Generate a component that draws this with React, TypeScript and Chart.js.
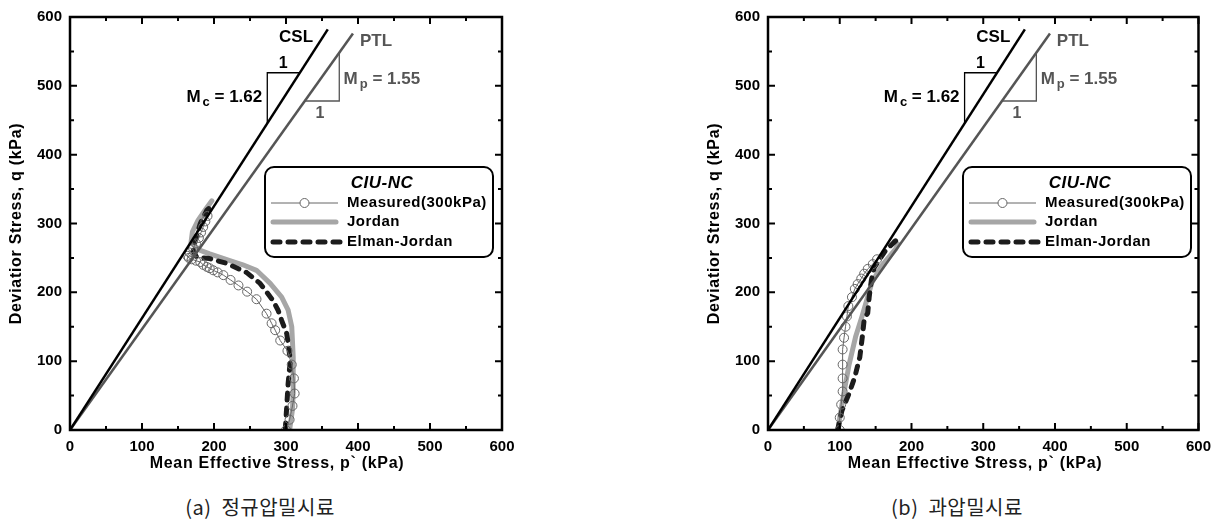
import React, { useEffect, useRef } from "react";
import { Chart, registerables } from "chart.js";
Chart.register(...registerables);

// ---------- data (p' in kPa, q in kPa) ----------
const axisMax = 600;
const majorStep = 100;
const minorStep = 50;

const cslP = [0, 358];
const cslQ = [0, 582];
const ptlP = [0, 393];
const ptlQ = [0, 576];
const cslTriP = [274, 274, 319];
const cslTriQ = [445, 519, 519];
const ptlTriP = [374, 374, 326];
const ptlTriQ = [548, 478, 478];

// (a) normally consolidated
const ncMeasuredP = [300, 305, 309, 312, 311, 308, 302, 292, 285, 280, 273, 259, 246, 234, 223, 213, 205, 199, 194, 190, 185, 181, 175, 169, 165, 163, 166, 171, 175, 179, 182, 185, 188, 191];
const ncMeasuredQ = [0, 15, 35, 53, 75, 95, 115, 130, 145, 155, 169, 190, 201, 210, 218, 225, 229, 232, 235, 237, 240, 244, 246, 248, 250, 253, 258, 264, 271, 279, 287, 295, 303, 311];
const ncJordanP = [305, 309, 310, 310, 308, 303, 294, 278, 259, 240, 222, 194, 181, 168, 170, 178, 188, 197];
const ncJordanQ = [0, 30, 58, 106, 150, 174, 193, 213, 232, 240, 246, 256, 261, 272, 288, 305, 320, 333];
const ncElmanP = [299, 301, 303, 306, 303, 301, 294, 289, 282, 264, 245, 218, 194, 176, 171, 174, 181, 190, 197];
const ncElmanQ = [0, 34, 68, 101, 126, 140, 159, 174, 188, 213, 229, 242, 249, 251, 260, 275, 300, 319, 326];

// (b) overconsolidated
const ocMeasuredP = [100, 100, 102, 104, 104, 104, 104, 106, 108, 110, 112, 117, 121, 125, 130, 134, 139, 146, 152];
const ocMeasuredQ = [0, 18, 37, 56, 75, 95, 117, 134, 150, 165, 180, 193, 205, 212, 220, 227, 234, 241, 248];
const ocJordanP = [98, 100, 106, 113, 122, 131, 138, 145, 158, 170, 178, 181, 176];
const ocJordanQ = [0, 18, 55, 95, 135, 165, 190, 215, 238, 253, 263, 270, 274];
const ocElmanP = [97, 103, 113, 121, 128, 132, 134, 139, 141, 144, 148, 164, 178, 180];
const ocElmanQ = [0, 28, 53, 77, 106, 140, 160, 170, 193, 217, 236, 261, 275, 272];

const xTitle = "Mean Effective Stress, p` (kPa)";
const yTitle = "Deviatior Stress, q (kPa)";
const legendTitle = "CIU-NC";
const legendLabels = ["Measured(300kPa)", "Jordan", "Elman-Jordan"];
const captions = ["(a)  정규압밀시료", "(b)  과압밀시료"];

// ---------- styling ----------
const FONT = '"Liberation Sans", Arial, sans-serif';
const C_CSL = "#000000";
const C_PTL = "#555555";
const C_MEAS = "#666666";
const C_JORDAN = "#a6a6a6";
const C_ELMAN = "#1c1c1c";

const pts = (P: number[], Q: number[]) => P.map((p, i) => ({ x: p, y: Q[i] }));

type Txt = { text: string; sub?: string; rest?: string; p: number; q: number; color: string; align: CanvasTextAlign; size: number };
const texts: Txt[] = [
  { text: "CSL", p: 314, q: 570, color: C_CSL, align: "center", size: 17 },
  { text: "PTL", p: 425, q: 564, color: C_PTL, align: "center", size: 17 },
  { text: "1", p: 296, q: 533, color: C_CSL, align: "center", size: 16 },
  { text: "1", p: 347, q: 459, color: C_PTL, align: "center", size: 16 },
  { text: "M", sub: "c", rest: " = 1.62", p: 267, q: 483, color: C_CSL, align: "right", size: 17 },
  { text: "M", sub: "p", rest: " = 1.55", p: 380, q: 509, color: C_PTL, align: "left", size: 17 },
];

function setSpacing(ctx: any, v: string) {
  if ("letterSpacing" in ctx) ctx.letterSpacing = v;
}

function drawText(ctx: CanvasRenderingContext2D, t: Txt, x: number, y: number) {
  ctx.fillStyle = t.color;
  ctx.textBaseline = "middle";
  if (!t.sub) {
    ctx.font = `bold ${t.size}px ${FONT}`;
    ctx.textAlign = t.align;
    ctx.fillText(t.text, x, y);
    return;
  }
  const big = `bold ${t.size}px ${FONT}`;
  const small = `bold ${Math.round(t.size * 0.78)}px ${FONT}`;
  ctx.font = big;
  const w1 = ctx.measureText(t.text).width;
  const w3 = ctx.measureText(t.rest || "").width;
  ctx.font = small;
  const w2 = ctx.measureText(t.sub).width + 2;
  const total = w1 + w2 + w3;
  let x0 = t.align === "right" ? x - total : t.align === "center" ? x - total / 2 : x;
  ctx.textAlign = "left";
  ctx.font = big;
  ctx.fillText(t.text, x0, y);
  ctx.font = small;
  ctx.fillText(t.sub, x0 + w1 + 2, y + 5);
  ctx.font = big;
  ctx.fillText(t.rest || "", x0 + w1 + w2, y);
}

const decorPlugin = {
  id: "decor",
  afterDatasetsDraw(chart: any) {
    const ctx: CanvasRenderingContext2D = chart.ctx;
    const ca = chart.chartArea;
    const xs = chart.scales.x;
    const ys = chart.scales.y;
    ctx.save();
    // annotations
    texts.forEach((t) => drawText(ctx, t, xs.getPixelForValue(t.p), ys.getPixelForValue(t.q)));

    // frame + inward ticks
    ctx.strokeStyle = "#000";
    ctx.lineWidth = 2;
    for (let v = 0; v <= axisMax; v += minorStep) {
      const len = v % majorStep === 0 ? 7 : 4;
      const px = xs.getPixelForValue(v);
      const py = ys.getPixelForValue(v);
      ctx.beginPath();
      ctx.moveTo(px, ca.bottom); ctx.lineTo(px, ca.bottom - len);
      ctx.moveTo(px, ca.top); ctx.lineTo(px, ca.top + len);
      ctx.moveTo(ca.left, py); ctx.lineTo(ca.left + len, py);
      ctx.moveTo(ca.right, py); ctx.lineTo(ca.right - len, py);
      ctx.stroke();
    }
    ctx.lineWidth = 2.5;
    ctx.strokeRect(ca.left, ca.top, ca.right - ca.left, ca.bottom - ca.top);

    // legend box
    const lx = ca.left + 195, ly = 167, lw = 228, lh = 90, r = 9;
    ctx.fillStyle = "#fff";
    ctx.lineWidth = 2;
    ctx.beginPath();
    ctx.moveTo(lx + r, ly);
    ctx.arcTo(lx + lw, ly, lx + lw, ly + lh, r);
    ctx.arcTo(lx + lw, ly + lh, lx, ly + lh, r);
    ctx.arcTo(lx, ly + lh, lx, ly, r);
    ctx.arcTo(lx, ly, lx + lw, ly, r);
    ctx.closePath();
    ctx.fill();
    ctx.stroke();
    ctx.fillStyle = "#000";
    ctx.textBaseline = "middle";
    ctx.textAlign = "center";
    ctx.font = `italic bold 17px ${FONT}`;
    setSpacing(ctx, "0.5px");
    ctx.fillText(legendTitle, lx + 117, ly + 16);
    const rows = [ly + 36, ly + 55, ly + 75];
    const sx0 = lx + 6, sx1 = lx + 73;
    // measured
    ctx.strokeStyle = C_MEAS; ctx.lineWidth = 1;
    ctx.beginPath(); ctx.moveTo(sx0, rows[0]); ctx.lineTo(sx1, rows[0]); ctx.stroke();
    ctx.beginPath(); ctx.arc((sx0 + sx1) / 2, rows[0], 4.5, 0, Math.PI * 2); ctx.fillStyle = "#fff"; ctx.fill(); ctx.stroke();
    // jordan
    ctx.strokeStyle = C_JORDAN; ctx.lineWidth = 5; ctx.lineCap = "round";
    ctx.beginPath(); ctx.moveTo(sx0 + 2, rows[1]); ctx.lineTo(sx1 - 2, rows[1]); ctx.stroke();
    // elman
    ctx.strokeStyle = C_ELMAN; ctx.setLineDash([7, 8]);
    ctx.beginPath(); ctx.moveTo(sx0 + 2, rows[2]); ctx.lineTo(sx1 + 2, rows[2]); ctx.stroke();
    ctx.setLineDash([]); ctx.lineCap = "butt";
    ctx.fillStyle = "#000";
    ctx.textAlign = "left";
    ctx.font = `bold 15px ${FONT}`;
    legendLabels.forEach((l, i) => ctx.fillText(l, lx + 82, rows[i]));

    // axis titles
    ctx.font = `bold 16px ${FONT}`;
    setSpacing(ctx, "0.7px");
    ctx.textAlign = "center";
    ctx.fillText(xTitle, ca.left + 207, 464);
    ctx.save();
    ctx.translate(ca.left - 53, (ca.top + ca.bottom) / 2);
    ctx.rotate(-Math.PI / 2);
    ctx.fillText(yTitle, 0, 0);
    ctx.restore();
    setSpacing(ctx, "0px");
    ctx.restore();
  },
};

function makeConfig(mP: number[], mQ: number[], jP: number[], jQ: number[], eP: number[], eQ: number[], padRight: number): any {
  const tickFont = { family: FONT, size: 15, weight: "bold" as const };
  return {
    type: "scatter",
    data: {
      datasets: [
        { data: pts(cslP, cslQ), showLine: true, borderColor: C_CSL, borderWidth: 2.5, pointRadius: 0 },
        { data: pts(ptlP, ptlQ), showLine: true, borderColor: C_PTL, borderWidth: 2.5, pointRadius: 0 },
        { data: pts(cslTriP, cslTriQ), showLine: true, borderColor: C_CSL, borderWidth: 1.3, pointRadius: 0 },
        { data: pts(ptlTriP, ptlTriQ), showLine: true, borderColor: C_PTL, borderWidth: 1.3, pointRadius: 0 },
        { data: pts(mP, mQ), showLine: true, borderColor: C_MEAS, borderWidth: 1, pointRadius: 4.5, pointBorderColor: C_MEAS, pointBackgroundColor: "rgba(255,255,255,0)", pointBorderWidth: 1 },
        { data: pts(eP, eQ), showLine: true, borderColor: C_ELMAN, borderWidth: 5, borderDash: [7, 8], borderCapStyle: "round", borderJoinStyle: "round", pointRadius: 0 },
        { data: pts(jP, jQ), showLine: true, borderColor: C_JORDAN, borderWidth: 5, borderCapStyle: "round", borderJoinStyle: "round", pointRadius: 0 },
      ],
    },
    options: {
      animation: false,
      responsive: false,
      maintainAspectRatio: false,
      layout: { padding: { top: 16, right: padRight, left: 0, bottom: 0 } },
      plugins: { legend: { display: false }, tooltip: { enabled: false } },
      scales: {
        x: {
          type: "linear", min: 0, max: axisMax,
          ticks: { stepSize: majorStep, font: tickFont, color: "#000", padding: 8, maxRotation: 0 },
          grid: { display: false, drawTicks: false },
          border: { display: false },
          afterFit: (s: any) => { s.height = 50; },
        },
        y: {
          type: "linear", min: 0, max: axisMax,
          ticks: { stepSize: majorStep, font: tickFont, color: "#000", padding: 8 },
          grid: { display: false, drawTicks: false },
          border: { display: false },
          afterFit: (s: any) => { s.width = 70; },
        },
      },
    },
    plugins: [decorPlugin],
  };
}

function Panel({ left, width, config }: { left: number; width: number; config: any }) {
  const ref = useRef<HTMLCanvasElement>(null);
  useEffect(() => {
    const chart = new Chart(ref.current as HTMLCanvasElement, config);
    return () => chart.destroy();
  }, []);
  return (
    <canvas ref={ref} width={width} height={480}
      style={{ position: "absolute", left, top: 0, width, height: 480 }} />
  );
}

export default function App() {
  useEffect(() => {
    document.body.style.margin = "0";
  }, []);
  const capStyle: React.CSSProperties = {
    position: "absolute", top: 496, width: 300, textAlign: "center",
    fontFamily: '"Noto Sans CJK KR", "Noto Sans", sans-serif', fontSize: 20, lineHeight: "22px",
    letterSpacing: "0.5px", color: "#222", whiteSpace: "pre",
  };
  return (
    <div style={{ position: "relative", width: 1219, height: 519, background: "#fff", overflow: "hidden" }}>
      <Panel left={0} width={600} config={makeConfig(ncMeasuredP, ncMeasuredQ, ncJordanP, ncJordanQ, ncElmanP, ncElmanQ, 98)} />
      <Panel left={698} width={521} config={makeConfig(ocMeasuredP, ocMeasuredQ, ocJordanP, ocJordanQ, ocElmanP, ocElmanQ, 19)} />
      <div style={{ ...capStyle, left: 260 - 150 }}>{captions[0]}</div>
      <div style={{ ...capStyle, left: 957 - 150 }}>{captions[1]}</div>
    </div>
  );
}
